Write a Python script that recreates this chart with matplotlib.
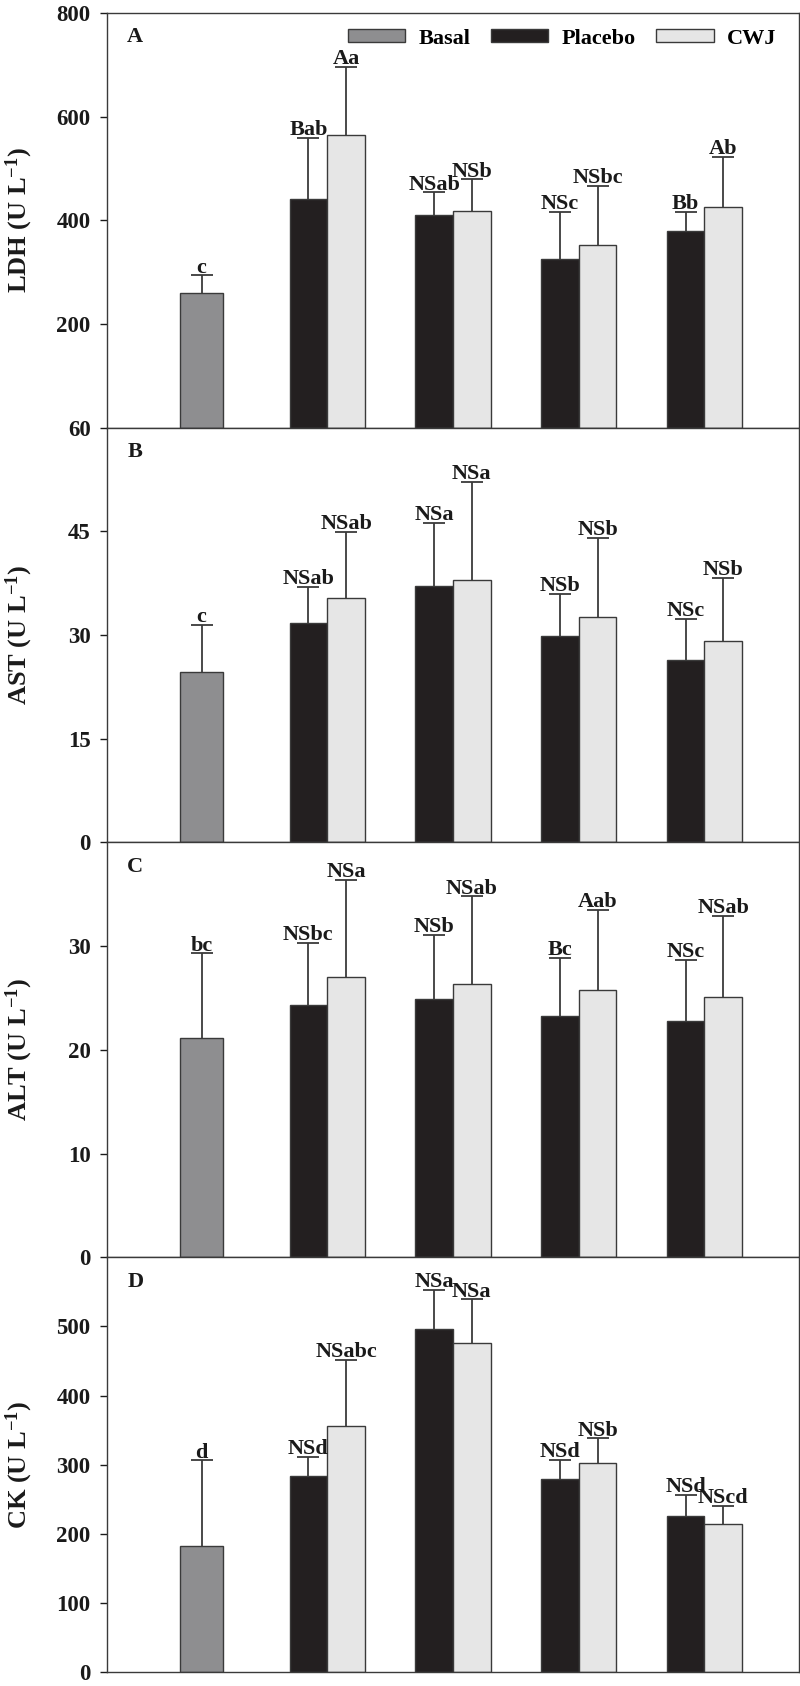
import matplotlib
matplotlib.use("Agg")
import matplotlib.pyplot as plt
import numpy as np

plt.rcParams['font.family'] = ['Liberation Serif', 'DejaVu Serif']
plt.rcParams['font.weight'] = 'bold'
plt.rcParams['mathtext.fontset'] = 'custom'
plt.rcParams['mathtext.rm'] = 'Liberation Serif:bold'
plt.rcParams['mathtext.bf'] = 'Liberation Serif:bold'
plt.rcParams['mathtext.default'] = 'bf'

# groups: basal sits alone at position 1, placebo/CWJ pairs at 2..5
basal_pos = 1
pair_pos = [2, 3, 4, 5]

# panel A - LDH
ldh_basal = 260
ldh_basal_err = 34
ldh_placebo = [441, 410, 326, 379]
ldh_placebo_err = [118, 44, 90, 37]
ldh_cwj = [564, 418, 353, 426]
ldh_cwj_err = [132, 61, 113, 96]
ldh_lab_basal = "c"
ldh_lab_placebo = ["Bab", "NSab", "NSc", "Bb"]
ldh_lab_cwj = ["Aa", "NSb", "NSbc", "Ab"]

# panel B - AST
ast_basal = 24.6
ast_basal_err = 6.9
ast_placebo = [31.7, 37.1, 29.9, 26.4]
ast_placebo_err = [5.3, 9.1, 6.1, 6.0]
ast_cwj = [35.3, 38.0, 32.6, 29.2]
ast_cwj_err = [9.6, 14.2, 11.5, 9.1]
ast_lab_basal = "c"
ast_lab_placebo = ["NSab", "NSa", "NSb", "NSc"]
ast_lab_cwj = ["NSab", "NSa", "NSb", "NSb"]

# panel C - ALT
alt_basal = 21.1
alt_basal_err = 8.2
alt_placebo = [24.3, 24.9, 23.3, 22.8]
alt_placebo_err = [6.0, 6.2, 5.6, 5.9]
alt_cwj = [27.0, 26.4, 25.8, 25.1]
alt_cwj_err = [9.4, 8.4, 7.7, 7.8]
alt_lab_basal = "bc"
alt_lab_placebo = ["NSbc", "NSb", "Bc", "NSc"]
alt_lab_cwj = ["NSa", "NSab", "Aab", "NSab"]

# panel D - CK
ck_basal = 183
ck_basal_err = 123
ck_placebo = [284, 496, 279, 226]
ck_placebo_err = [27, 57, 28, 30]
ck_cwj = [356, 476, 302, 214]
ck_cwj_err = [95, 63, 36, 26]
ck_lab_basal = "d"
ck_lab_placebo = ["NSd", "NSa", "NSd", "NSd"]
ck_lab_cwj = ["NSabc", "NSa", "NSb", "NScd"]

ylabels = ["LDH (U L$^{-1}$)", "AST (U L$^{-1}$)", "ALT (U L$^{-1}$)", "CK (U L$^{-1}$)"]
letters = ["A", "B", "C", "D"]
ylims = [(0, 800), (0, 60), (0, 40), (0, 600)]
yticks = [[200, 400, 600, 800], [0, 15, 30, 45, 60], [0, 10, 20, 30], [0, 100, 200, 300, 400, 500]]

c_basal = "#8e8e90"
c_placebo = "#231f20"
c_cwj = "#e6e6e6"
edge = "#3a3a3a"
txt = "#1a1a1a"

panels = [
    (ldh_basal, ldh_basal_err, ldh_placebo, ldh_placebo_err, ldh_cwj, ldh_cwj_err, ldh_lab_basal, ldh_lab_placebo, ldh_lab_cwj),
    (ast_basal, ast_basal_err, ast_placebo, ast_placebo_err, ast_cwj, ast_cwj_err, ast_lab_basal, ast_lab_placebo, ast_lab_cwj),
    (alt_basal, alt_basal_err, alt_placebo, alt_placebo_err, alt_cwj, alt_cwj_err, alt_lab_basal, alt_lab_placebo, alt_lab_cwj),
    (ck_basal, ck_basal_err, ck_placebo, ck_placebo_err, ck_cwj, ck_cwj_err, ck_lab_basal, ck_lab_placebo, ck_lab_cwj),
]

fig = plt.figure(figsize=(8, 16.86), dpi=100)
gs = fig.add_gridspec(4, 1, left=0.134, right=0.9985, top=0.9923, bottom=0.0083, hspace=0)

bw = 0.30
bw_basal = 0.34
px = np.array(pair_pos) - bw / 2
cx = np.array(pair_pos) + bw / 2

def label(ax, x, y, s):
    ax.annotate(s, (x, y), xytext=(0, 2), textcoords='offset points',
                ha='center', va='baseline', fontsize=16, fontweight='bold', color=txt)

def upbars(ax, x, mean, err):
    mean = np.atleast_1d(mean)
    err = np.atleast_1d(err)
    eb = ax.errorbar(x, mean, yerr=[np.zeros(len(mean)), err], fmt='none', ecolor=edge,
                     elinewidth=1.3, capsize=8, capthick=1.3, zorder=1)
    # drop the lower caps, only the upper half of the bar is shown
    for cl in eb[1]:
        if np.allclose(cl.get_ydata(), mean):
            cl.set_visible(False)

for i, (b, be, p, pe, c, ce, lb, lp, lc) in enumerate(panels):
    ax = fig.add_subplot(gs[i])
    ax.bar(basal_pos, b, bw_basal, color=c_basal, edgecolor=edge, lw=1, zorder=2, label='Basal')
    ax.bar(px, p, bw, color=c_placebo, edgecolor=edge, lw=1, zorder=2, label='Placebo')
    ax.bar(cx, c, bw, color=c_cwj, edgecolor=edge, lw=1, zorder=2, label='CWJ')
    upbars(ax, [basal_pos], b, be)
    upbars(ax, px, p, pe)
    upbars(ax, cx, c, ce)

    label(ax, basal_pos, b + be, lb)
    for j in range(4):
        label(ax, px[j], p[j] + pe[j], lp[j])
        label(ax, cx[j], c[j] + ce[j], lc[j])

    ax.set_xlim(0.25, 5.75)
    ax.set_ylim(*ylims[i])
    ax.set_yticks(yticks[i])
    ax.set_xticks([])
    ax.tick_params(axis='y', direction='out', length=5, width=1, pad=7, labelsize=16.5, colors=txt)
    for lab in ax.get_yticklabels():
        lab.set_fontweight('bold')
    for sp in ax.spines.values():
        sp.set_color(edge)
        sp.set_linewidth(1)
    ax.set_ylabel(ylabels[i], fontsize=19, fontweight='bold', color=txt)
    ax.yaxis.set_label_coords(-0.104, 0.5)
    ax.text(0.029, 0.965, letters[i], transform=ax.transAxes, ha='left', va='top',
            fontsize=16, fontweight='bold', color=txt)

    if i == 0:
        ax.legend(loc='upper right', bbox_to_anchor=(0.99, 1.0), ncol=3, frameon=False,
                  handlelength=2.6, handleheight=0.55, handletextpad=0.6,
                  columnspacing=0.9, borderaxespad=0.3,
                  prop={'family': ['Liberation Serif'], 'weight': 'bold', 'size': 16})

fig.savefig('out.png', dpi=100)
